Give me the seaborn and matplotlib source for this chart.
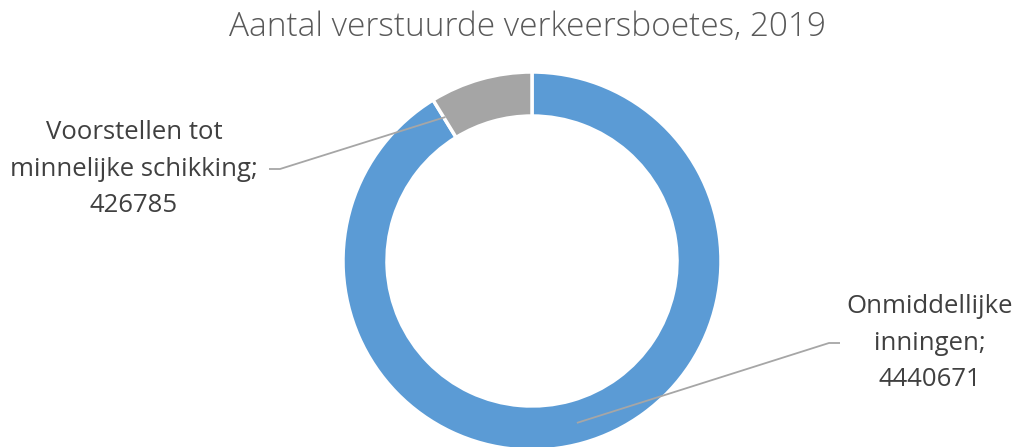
import numpy as np
import matplotlib
matplotlib.use("Agg")
import matplotlib.pyplot as plt
import seaborn as sns

# --- data ---
categories = ["Onmiddellijke inningen", "Voorstellen tot minnelijke schikking"]
label_texts = ["Onmiddellijke\ninningen;\n4440671", "Voorstellen tot\nminnelijke schikking;\n426785"]
values = [4440671, 426785]
colors = ["#5B9BD5", "#A5A5A5"]
title = "Aantal verstuurde verkeersboetes, 2019"

sns.set_theme(style="white")
plt.rcParams["font.family"] = ["Open Sans", "DejaVu Sans"]

W, H = 1015, 447
fig = plt.figure(figsize=(W / 100, H / 100), dpi=100)
ax = fig.add_axes([0, 0, 1, 1])

# donut (pixel coords, y up)
cx, cy, r_out, r_in = 532, H - 261, 189, 145
wedges, _ = ax.pie(values, colors=colors, startangle=90, counterclock=False,
                   center=(cx, cy), radius=r_out, frame=True,
                   wedgeprops=dict(width=r_out - r_in, edgecolor="white", linewidth=2.5))
ax.set_xlim(0, W)
ax.set_ylim(0, H)
ax.axis("off")

# labels with leader lines: (text x, text y, elbow x, anchor angle deg)
label_pos = [(930, H - 343, 829, -74.5), (134, H - 169, 280, 121)]
r_mid = 168
for (tx, ty, ex, ang), txt in zip(label_pos, label_texts):
    ax.text(tx, ty, txt, ha="center", va="center", fontsize=18.5,
            color="#404040", linespacing=1.58)
    ax_pt = (cx + r_mid * np.cos(np.radians(ang)), cy + r_mid * np.sin(np.radians(ang)))
    side = 1 if ex > cx else -1
    ax.plot([ex + side * 11, ex, ax_pt[0]], [ty, ty, ax_pt[1]],
            color="#A6A6A6", lw=1.3, solid_capstyle="butt")

ax.text(528, H - 27, title, ha="center", va="center", fontsize=24,
        color="#595959", fontweight="light")

fig.savefig("out.png", dpi=100)
